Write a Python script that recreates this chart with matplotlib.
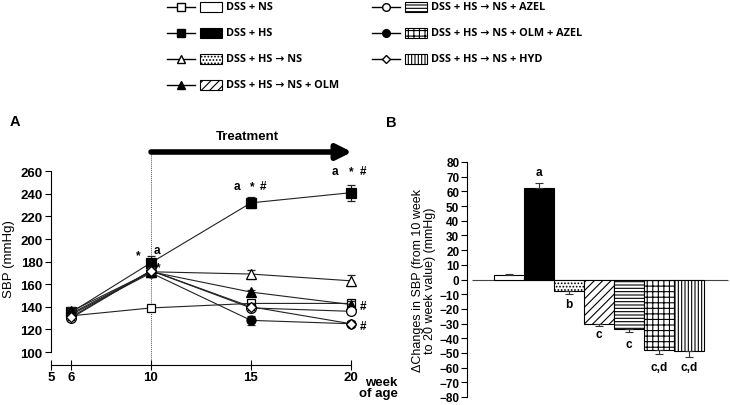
import numpy as np
import matplotlib
matplotlib.use('Agg')
import matplotlib.pyplot as plt
from matplotlib.lines import Line2D
from matplotlib.patches import Rectangle

plt.rcParams['font.family'] = ['Liberation Sans', 'DejaVu Sans']
plt.rcParams['hatch.linewidth'] = 0.8

# ---- data ----
groups = ['DSS + NS', 'DSS + HS', 'DSS + HS \u2192 NS', 'DSS + HS \u2192 NS + OLM',
          'DSS + HS \u2192 NS + AZEL', 'DSS + HS \u2192 NS + OLM + AZEL', 'DSS + HS \u2192 NS + HYD']
weeks = [6, 10, 15, 20]
sbp_ns = [132, 139, 143, 143]
sbp_hs = [135, 179, 232, 241]
sbp_hs_ns = [134, 171, 169, 163]
sbp_olm = [136, 171, 153, 142]
sbp_azel = [130, 172, 139, 136]
sbp_olm_azel = [133, 170, 128, 125]
sbp_hyd = [131, 172, 140, 125]
err_ns = [3, 3, 3, 3]
err_hs = [4, 6, 5, 7]
err_hs_ns = [4, 3, 4, 5]
err_olm = [4, 3, 2, 3]
err_azel = [3, 3, 3, 2]
err_olm_azel = [3, 3, 4, 2]
err_hyd = [3, 3, 3, 2]

delta = [3, 62.5, -7.5, -30, -34, -48, -48.5]
delta_err = [0.6, 3.5, 2.5, 1.5, 2, 3, 4]
delta_sig = ['', 'a', 'b', 'c', 'c', 'c,d', 'c,d']

# ---- styles ----
markers = ['s', 's', '^', '^', 'o', 'o', 'D']
mfc = ['white', 'black', 'white', 'black', 'white', 'black', 'white']
msz = [6, 6.5, 6.5, 6.5, 7, 6.5, 5.5]
lgsz = [5.5, 6, 6, 6, 5.5, 5.5, 4.5]
bar_fc = ['white', 'black', 'white', 'white', 'white', 'white', 'white']
bar_hatch = [None, None, '.....', '////', '-----', '+++', '|||||']

fig = plt.figure(figsize=(7.3, 4.06), dpi=100)
W, H = 730.0, 406.0

def px_axes(l, t, r, b):
    return fig.add_axes([l / W, 1 - b / H, (r - l) / W, (b - t) / H])

# ---- panel A ----
ax = px_axes(51, 153, 351, 366)
ax.set_xlim(5, 20)
ax.set_ylim(88.5, 277)
series = [sbp_ns, sbp_hs, sbp_hs_ns, sbp_olm, sbp_azel, sbp_olm_azel, sbp_hyd]
errs = [err_ns, err_hs, err_hs_ns, err_olm, err_azel, err_olm_azel, err_hyd]
for i in range(7):
    ax.errorbar(weeks, series[i], yerr=errs[i], color='#222222', lw=0.8,
                marker=markers[i], mfc=mfc[i], mec='black', ms=msz[i], mew=0.9,
                capsize=3, elinewidth=0.8, capthick=0.8, clip_on=False, zorder=3 + i)
ax.spines['right'].set_visible(False)
ax.spines['top'].set_visible(False)
ax.spines['left'].set_bounds(100, 260)
ax.spines['left'].set_linewidth(0.8)
ax.spines['bottom'].set_linewidth(0.8)
ax.set_yticks(np.arange(100, 261, 20))
ax.set_xticks([5, 6, 10, 15, 20])
ax.set_xticklabels(['5', '6', '10', '15', '20'])
ax.tick_params(axis='y', direction='out', length=4, width=0.8, labelsize=9.5, pad=2)
ax.tick_params(axis='x', direction='inout', length=7, width=0.8, labelsize=9.5, pad=1)
for lb in ax.get_xticklabels() + ax.get_yticklabels():
    lb.set_fontweight('bold')
ax.text(20.4, 88.5 - 9.5, 'week\nof age', ha='left', va='top', fontsize=9.5,
        fontweight='bold', multialignment='right', linespacing=0.95)
ax.set_ylabel('SBP (mmHg)', fontsize=9.5)
ax.yaxis.set_label_coords(-0.12, 0.5)
ax.axvline(10, ymin=0, ymax=1, color='#555555', lw=0.7, ls=(0, (1, 1)), zorder=1)
ax.annotate('', xy=(20.05, 277), xytext=(10, 277),
            arrowprops=dict(arrowstyle='-|>,head_length=0.9,head_width=0.45',
                            lw=4, color='black', shrinkA=0, shrinkB=0),
            annotation_clip=False)
ax.text(14.8, 291, 'Treatment', ha='center', va='center', fontsize=9.5, fontweight='bold')

sig_a = [(9.35, 186, '*'), (10.3, 190, 'a'), (10.35, 175, '*'),
         (14.3, 247, 'a'), (15.05, 247, '*'), (15.6, 247, '#'),
         (19.2, 260, 'a'), (20.0, 260, '*'), (20.6, 260, '#'),
         (20.6, 141, '#'), (20.6, 123, '#')]
for x, y, s in sig_a:
    ax.text(x, y, s, ha='center', va='center', fontsize=8.5, fontweight='bold')

fig.text(10 / W, 1 - 122 / H, 'A', fontsize=10.5, fontweight='bold', va='center')

# ---- panel B ----
bx = px_axes(467, 163, 730, 398)
bx.set_xlim(-1.4, 7.37)
bx.set_ylim(-80, 80)
xpos = np.arange(len(delta))
for i in range(len(delta)):
    bx.bar(xpos[i], delta[i], width=1.0, color=bar_fc[i], edgecolor='black',
           hatch=bar_hatch[i], lw=0.8, zorder=2)
    sign = 1 if delta[i] >= 0 else -1
    bx.errorbar(xpos[i], delta[i], yerr=[[0 if sign > 0 else delta_err[i]],
                                         [delta_err[i] if sign > 0 else 0]],
                fmt='none', ecolor='#333333', elinewidth=0.8, capsize=3, capthick=0.8, zorder=3)
bx.hlines(0, -1.23, 7.3, color='#444444', lw=0.8, zorder=1)
sig_y = [0, 73, -17, -37, -44, -59.5, -59.5]
for i, s in enumerate(delta_sig):
    if s:
        bx.text(xpos[i], sig_y[i], s, ha='center', va='center', fontsize=8.5, fontweight='bold')
for sp in ['right', 'top', 'bottom']:
    bx.spines[sp].set_visible(False)
bx.spines['left'].set_linewidth(0.8)
bx.set_xticks([])
bx.set_yticks(np.arange(-80, 81, 10))
bx.tick_params(axis='y', direction='out', length=4, width=0.8, labelsize=8.5, pad=1.5)
for lb in bx.get_yticklabels():
    lb.set_fontweight('bold')
bx.set_ylabel('\u0394Changes in SBP (from 10 week\nto 20 week value) (mmHg)', fontsize=9,
              linespacing=1.05)
bx.yaxis.set_label_coords(-0.118, 0.5)
fig.text(386 / W, 1 - 123 / H, 'B', fontsize=10.5, fontweight='bold', va='center')

# ---- legend ----
lg = fig.add_axes([0, 0, 1, 1])
lg.set_xlim(0, W)
lg.set_ylim(H, 0)
lg.axis('off')
rows = [8, 34, 60, 86, 8, 34, 60]
cols = [167, 167, 167, 167, 372, 372, 372]
for i in range(7):
    x0, y0 = cols[i], rows[i]
    lg.add_line(Line2D([x0, x0 + 28], [y0, y0], color='black', lw=1.0))
    lg.add_line(Line2D([x0 + 14], [y0], marker=markers[i], mfc=mfc[i], mec='black',
                       ms=lgsz[i], mew=1.0))
    lg.add_patch(Rectangle((x0 + 33, y0 - 5), 22, 10, facecolor=bar_fc[i], edgecolor='black',
                           hatch=bar_hatch[i], lw=0.8))
    lg.text(x0 + 59, y0, groups[i], ha='left', va='center', fontsize=7.8, fontweight='bold',
            family=['Open Sans', 'DejaVu Sans'])

fig.savefig('out.png', dpi=100)
